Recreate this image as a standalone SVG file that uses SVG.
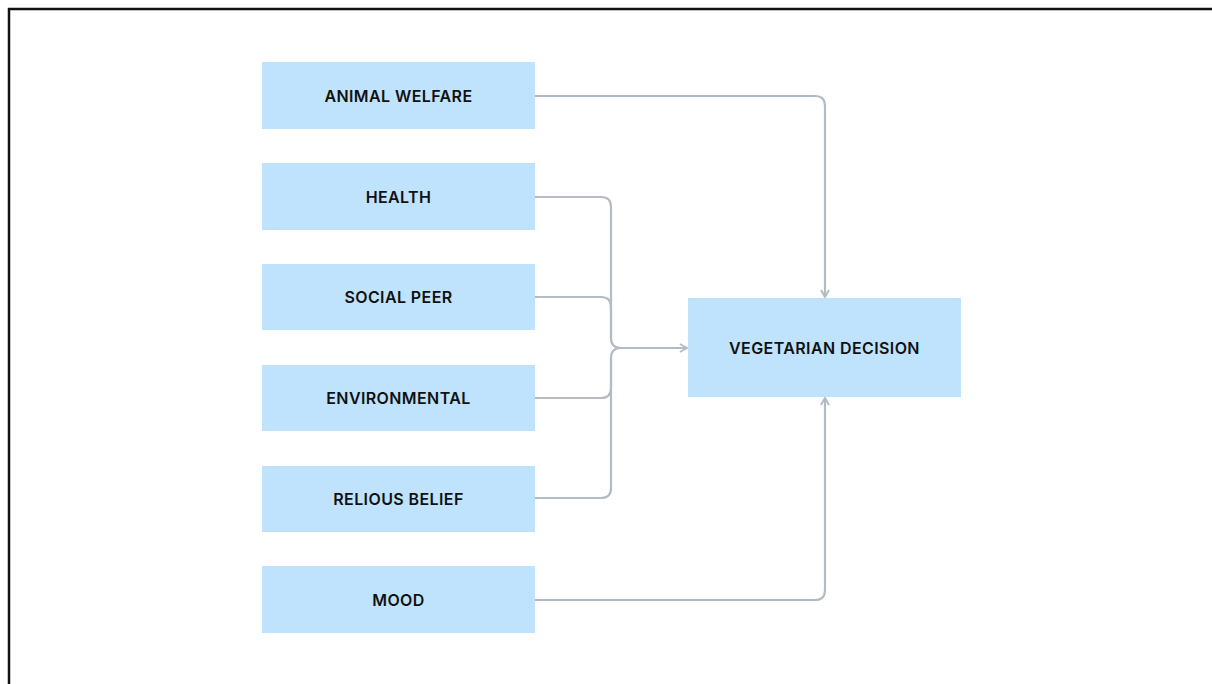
<svg xmlns="http://www.w3.org/2000/svg" width="1212" height="684" viewBox="0 0 1212 684">
<style>
.box{fill:#bfe3fd}
.lbl{font-family:Inter,"Liberation Sans",sans-serif;font-size:16px;font-weight:600;fill:#111;text-anchor:middle;dominant-baseline:central;letter-spacing:0.4px}
.c{fill:none;stroke:#b3bcc5;stroke-width:2.2}
</style>
<defs>
<marker id="ah" viewBox="0 0 10 10" refX="9" refY="5" markerWidth="10" markerHeight="10" markerUnits="userSpaceOnUse" orient="auto">
<path d="M2,1 L9,5 L2,9" fill="none" stroke="#b3bcc5" stroke-width="2"/>
</marker>
</defs>
<rect x="0" y="0" width="1212" height="684" fill="#fff"/>
<path d="M9,684 V9 H1212" fill="none" stroke="#111" stroke-width="2.5"/>
<g id="connectors">
<path class="c" d="M535,96 H815 Q825,96 825,106 V297" marker-end="url(#ah)"/>
<path class="c" d="M535,197 H601 Q611,197 611,207 V338 Q611,348 621,348 H687" marker-end="url(#ah)"/>
<path class="c" d="M535,297 H601 Q611,297 611,307 V338"/>
<path class="c" d="M535,398 H601 Q611,398 611,388 V358 Q611,348 621,348"/>
<path class="c" d="M535,498 H601 Q611,498 611,488 V358"/>
<path class="c" d="M535,600 H815 Q825,600 825,590 V398" marker-end="url(#ah)"/>
</g>
<g id="n1"><rect class="box" x="262" y="62" width="273" height="67"/><text class="lbl" x="398.5" y="96">ANIMAL WELFARE</text></g>
<g id="n2"><rect class="box" x="262" y="163" width="273" height="67"/><text class="lbl" x="398.5" y="197">HEALTH</text></g>
<g id="n3"><rect class="box" x="262" y="264" width="273" height="66"/><text class="lbl" x="398.5" y="297">SOCIAL PEER</text></g>
<g id="n4"><rect class="box" x="262" y="365" width="273" height="66"/><text class="lbl" x="398.5" y="398">ENVIRONMENTAL</text></g>
<g id="n5"><rect class="box" x="262" y="466" width="273" height="66"/><text class="lbl" x="398.5" y="499">RELIOUS BELIEF</text></g>
<g id="n6"><rect class="box" x="262" y="566" width="273" height="67"/><text class="lbl" x="398.5" y="600">MOOD</text></g>
<g id="target"><rect class="box" x="688" y="298" width="273" height="99"/><text class="lbl" x="824.5" y="348">VEGETARIAN DECISION</text></g>
</svg>
